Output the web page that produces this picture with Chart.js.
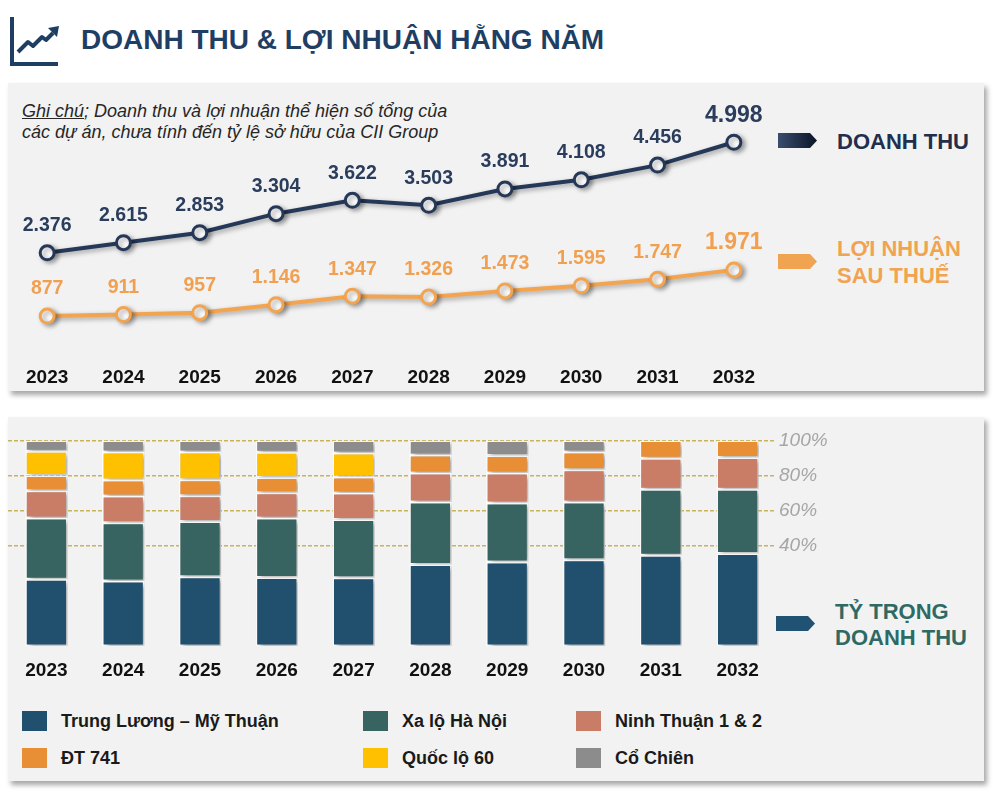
<!DOCTYPE html>
<html lang="vi">
<head>
<meta charset="utf-8">
<script src="https://cdn.jsdelivr.net/npm/chart.js@4.4.1/dist/chart.umd.min.js"></script>
<style>
  body { margin: 0; width: 1000px; height: 796px; background: #fff; position: relative; overflow: hidden;
         font-family: "Liberation Sans", Arial, sans-serif; }
  .abs { position: absolute; }
  .panel { background: #f2f2f2; box-shadow: 3px 4px 5px rgba(0,0,0,0.35); }
  .title { left: 81px; top: 24px; font-size: 28px; font-weight: bold; color: #1f3e64; white-space: nowrap; }
  .note { left: 22px; top: 101px; font-size: 18px; font-style: italic; color: #262626; line-height: 21px; white-space: nowrap; }
  .arrow { width: 39px; height: 15px; clip-path: polygon(0 0, 82% 0, 100% 50%, 82% 100%, 0 100%); }
  .side { font-size: 22px; font-weight: bold; line-height: 27px; white-space: nowrap; }
  .leg { font-size: 18px; font-weight: bold; color: #1a1a1a; white-space: nowrap; }
  .sw { width: 25px; height: 20px; }
</style>
</head>
<body>
<div class="abs panel" style="left:8px;top:83px;width:976px;height:308px"></div>
<div class="abs panel" style="left:8px;top:417px;width:976px;height:364px"></div>

<svg class="abs" style="left:8px;top:14px" width="56" height="54" viewBox="0 0 56 54">
  <polyline points="4,3 4,50 50,50" fill="none" stroke="#1f3e64" stroke-width="4"/>
  <polyline points="10,38 20,28 25,32 34,23 38,26 45,19" fill="none" stroke="#1f3e64" stroke-width="4" stroke-linejoin="round"/>
  <polygon points="40,14 51,12 49,23" fill="#1f3e64"/>
</svg>
<div class="abs title">DOANH THU &amp; LỢI NHUẬN HẰNG NĂM</div>
<div class="abs note"><u>Ghi chú</u>; Doanh thu và lợi nhuận thể hiện số tổng của<br>các dự án, chưa tính đến tỷ lệ sở hữu của CII Group</div>

<div class="abs arrow" style="left:778px;top:133px;background:linear-gradient(to right,#3a4d6e,#0b1526)"></div>
<div class="abs side" style="left:837px;top:128px;color:#1f2f4d">DOANH THU</div>
<div class="abs arrow" style="left:778px;top:254px;background:#f0a350"></div>
<div class="abs side" style="left:837px;top:235px;color:#f0a350">LỢI NHUẬN<br>SAU THUẾ</div>

<div class="abs arrow" style="left:776px;top:616px;background:#1f5273"></div>
<div class="abs side" style="left:835px;top:599px;line-height:26px;color:#2f6964">TỶ TRỌNG<br>DOANH THU</div>

<canvas id="lineChart" class="abs" style="left:9px;top:100px" width="763" height="293"></canvas>
<canvas id="barChart" class="abs" style="left:8px;top:426px" width="828" height="260"></canvas>

<div id="legend"></div>

<script>
const years = ['2023', '2024', '2025', '2026', '2027', '2028', '2029', '2030', '2031', '2032'];

// tỷ đồng
const doanhThu = [2376, 2615, 2853, 3304, 3622, 3503, 3891, 4108, 4456, 4998];
const loiNhuan = [877, 911, 957, 1146, 1347, 1326, 1473, 1595, 1747, 1971];

// tỷ trọng doanh thu (%)
const trungLuong = [32.5, 31.6, 33.7, 33.3, 33.2, 39.6, 40.9, 42.0, 44.1, 45.0];
const xaLoHN = [29.7, 28.3, 26.9, 28.9, 28.3, 30.4, 28.7, 28.0, 32.2, 31.3];
const ninhThuan = [13.3, 13.0, 12.5, 12.3, 12.9, 14.1, 14.5, 15.7, 15.0, 15.4];
const dt741 = [7.4, 7.9, 7.8, 7.4, 7.8, 8.8, 8.5, 8.7, 8.7, 8.3];
const quocLo60 = [11.8, 13.6, 13.5, 12.3, 11.7, null, null, null, null, null];
const coChien = [5.3, 5.6, 5.6, 5.8, 6.1, 7.1, 7.4, 5.6, null, null];

const pctTicks = [40, 60, 80, 100];

const shareSeries = [
    { name: 'Trung Lương – Mỹ Thuận', data: trungLuong, color: '#21506f' },
    { name: 'Xa lộ Hà Nội', data: xaLoHN, color: '#376461' },
    { name: 'Ninh Thuận 1 & 2', data: ninhThuan, color: '#c97d66' },
    { name: 'ĐT 741', data: dt741, color: '#e88e35' },
    { name: 'Quốc lộ 60', data: quocLo60, color: '#ffc000' },
    { name: 'Cổ Chiên', data: coChien, color: '#8c8c8c' }
];

Chart.defaults.font.family = '"Liberation Sans", Arial, sans-serif';
Chart.defaults.animation = false;

function fmt(n) {
    return String(n).replace(/\B(?=(\d{3})+(?!\d))/g, '.');
}

const shadowPlugin = {
    id: 'shadow',
    beforeDatasetsDraw(chart) {
        const ctx = chart.ctx;
        ctx.save();
        ctx.shadowColor = 'rgba(0,0,0,0.35)';
        ctx.shadowBlur = 5;
        ctx.shadowOffsetX = 3;
        ctx.shadowOffsetY = 2;
    },
    afterDatasetsDraw(chart) {
        chart.ctx.restore();
    }
};

const valueLabels = {
    id: 'valueLabels',
    afterDatasetsDraw(chart) {
        const ctx = chart.ctx;
        ctx.save();
        ctx.textAlign = 'center';
        ctx.textBaseline = 'middle';
        chart.data.datasets.forEach((ds, i) => {
            chart.getDatasetMeta(i).data.forEach((pt, j) => {
                const last = j === ds.data.length - 1;
                ctx.font = 'bold ' + (last ? 23 : 19.5) + 'px "Liberation Sans", Arial, sans-serif';
                ctx.fillStyle = ds.labelColor;
                ctx.fillText(fmt(ds.data[j]), pt.x, pt.y - 27);
            });
        });
        ctx.restore();
    }
};

new Chart(document.getElementById('lineChart'), {
    type: 'line',
    data: {
        labels: years,
        datasets: [
            {
                label: 'Doanh thu',
                data: doanhThu,
                borderColor: '#253858',
                labelColor: '#2b3d5c',
                borderWidth: 4,
                pointRadius: 7,
                pointBorderWidth: 3,
                pointBackgroundColor: '#ffffff',
                pointBorderColor: '#253858'
            },
            {
                label: 'Lợi nhuận sau thuế',
                data: loiNhuan,
                borderColor: '#f2a451',
                labelColor: '#f0a050',
                borderWidth: 4,
                pointRadius: 7,
                pointBorderWidth: 3,
                pointBackgroundColor: '#ffffff',
                pointBorderColor: '#f2a451'
            }
        ]
    },
    options: {
        responsive: false,
        clip: false,
        layout: { padding: 0, autoPadding: false },
        plugins: { legend: { display: false }, tooltip: { enabled: false } },
        scales: {
            x: {
                offset: true,
                grid: { display: false, drawTicks: false },
                border: { display: false },
                ticks: { color: '#111', padding: 13, font: { size: 19, weight: 'bold' } },
                afterFit(scale) { scale.height = 40; }
            },
            y: { display: false, min: 0, max: 6000 }
        }
    },
    plugins: [shadowPlugin, valueLabels]
});

new Chart(document.getElementById('barChart'), {
    type: 'bar',
    data: {
        labels: years,
        datasets: shareSeries.map(s => ({
            label: s.name,
            data: s.data,
            backgroundColor: s.color,
            borderColor: '#ffffff',
            borderWidth: 1.5,
            borderSkipped: false,
            categoryPercentage: 1,
            barPercentage: 0.55
        }))
    },
    options: {
        responsive: false,
        layout: { padding: { top: 12 }, autoPadding: false },
        plugins: { legend: { display: false }, tooltip: { enabled: false } },
        scales: {
            x: {
                stacked: true,
                grid: { display: false, drawTicks: false },
                border: { display: false },
                ticks: { color: '#111', padding: 13, font: { size: 19, weight: 'bold' } },
                afterFit(scale) { scale.height = 40; }
            },
            y: { display: false, stacked: true, min: 0, max: 100 },
            y2: {
                position: 'right',
                min: -16.6,
                max: 100,
                grid: { color: '#c8b45a', lineWidth: 1.5, drawTicks: false },
                border: { display: false, dash: [4, 2] },
                ticks: {
                    color: '#a6a6a6',
                    padding: 3,
                    font: { size: 19, style: 'italic' },
                    callback: v => v + '%'
                },
                afterBuildTicks(scale) { scale.ticks = pctTicks.map(v => ({ value: v })); },
                afterFit(scale) { scale.width = 60; }
            }
        }
    },
    plugins: [shadowPlugin]
});

// chú thích bên dưới
const legend = document.getElementById('legend');
const cols = [22, 363, 576];
shareSeries.forEach((s, i) => {
    const x = cols[i % 3];
    const y = i < 3 ? 711 : 748;
    const sw = document.createElement('div');
    sw.className = 'abs sw';
    sw.style.cssText = `left:${x}px;top:${y}px;background:${s.color}`;
    const tx = document.createElement('div');
    tx.className = 'abs leg';
    tx.style.cssText = `left:${x + 39}px;top:${y}px;line-height:20px`;
    tx.textContent = s.name;
    legend.appendChild(sw);
    legend.appendChild(tx);
});
</script>
</body>
</html>
